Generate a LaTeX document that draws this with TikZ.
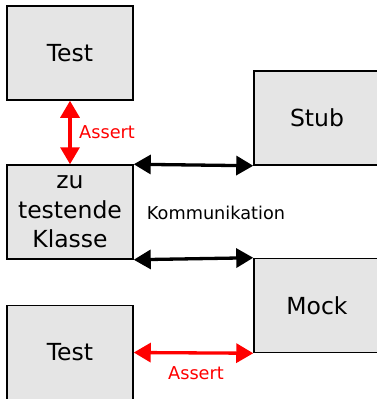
\documentclass[tikz,border=0pt]{standalone}
\usepackage{fontspec}
\setmainfont{DejaVu Sans}
\usetikzlibrary{arrows.meta}
\tikzset{
  box/.style={draw=black, line width=1.5pt, fill=black!10, minimum width=126pt,
    minimum height=94pt, inner sep=0pt, align=center,
    font=\fontsize{23.5}{29.5}\selectfont},
  link/.style={line width=3.3pt, {Triangle[length=17pt,width=19pt]}-{Triangle[length=17pt,width=19pt]}},
  lbl/.style={font=\fontsize{17.7}{20}\selectfont, inner sep=0pt},
}
\begin{document}
\begin{tikzpicture}[x=1pt,y=-1pt]
  \useasboundingbox (0,0) rectangle (377,399);
  \clip (0,0) rectangle (377,399);
  % boxes
  \node[box] (test1) at (70,53) {Test};
  \node[box] (cut) at (70,212) {zu\\testende\\Klasse};
  \node[box] (stub) at (317,118) {Stub};
  \node[box] (mock) at (317,305.5) {Mock};
  \node[box] (test2) at (70,352.5) {Test};
  % connectors
  \draw[link, red] (test1.south) -- (cut.north);
  \draw[link, black] (cut.north east) -- (stub.south west);
  \draw[link, black] (cut.south east) -- (mock.north west);
  \draw[link, red] (test2.east) -- (mock.south west);
  % labels
  \node[lbl, red, anchor=west] (a1) at (79,132) {Assert};
  \node[lbl, red] (a2) at (196,373) {Assert};
  \node[lbl, font=\fontsize{17.7}{20}\selectfont] (komm) at (216,213) {Kommunikation};
\end{tikzpicture}
\end{document}
